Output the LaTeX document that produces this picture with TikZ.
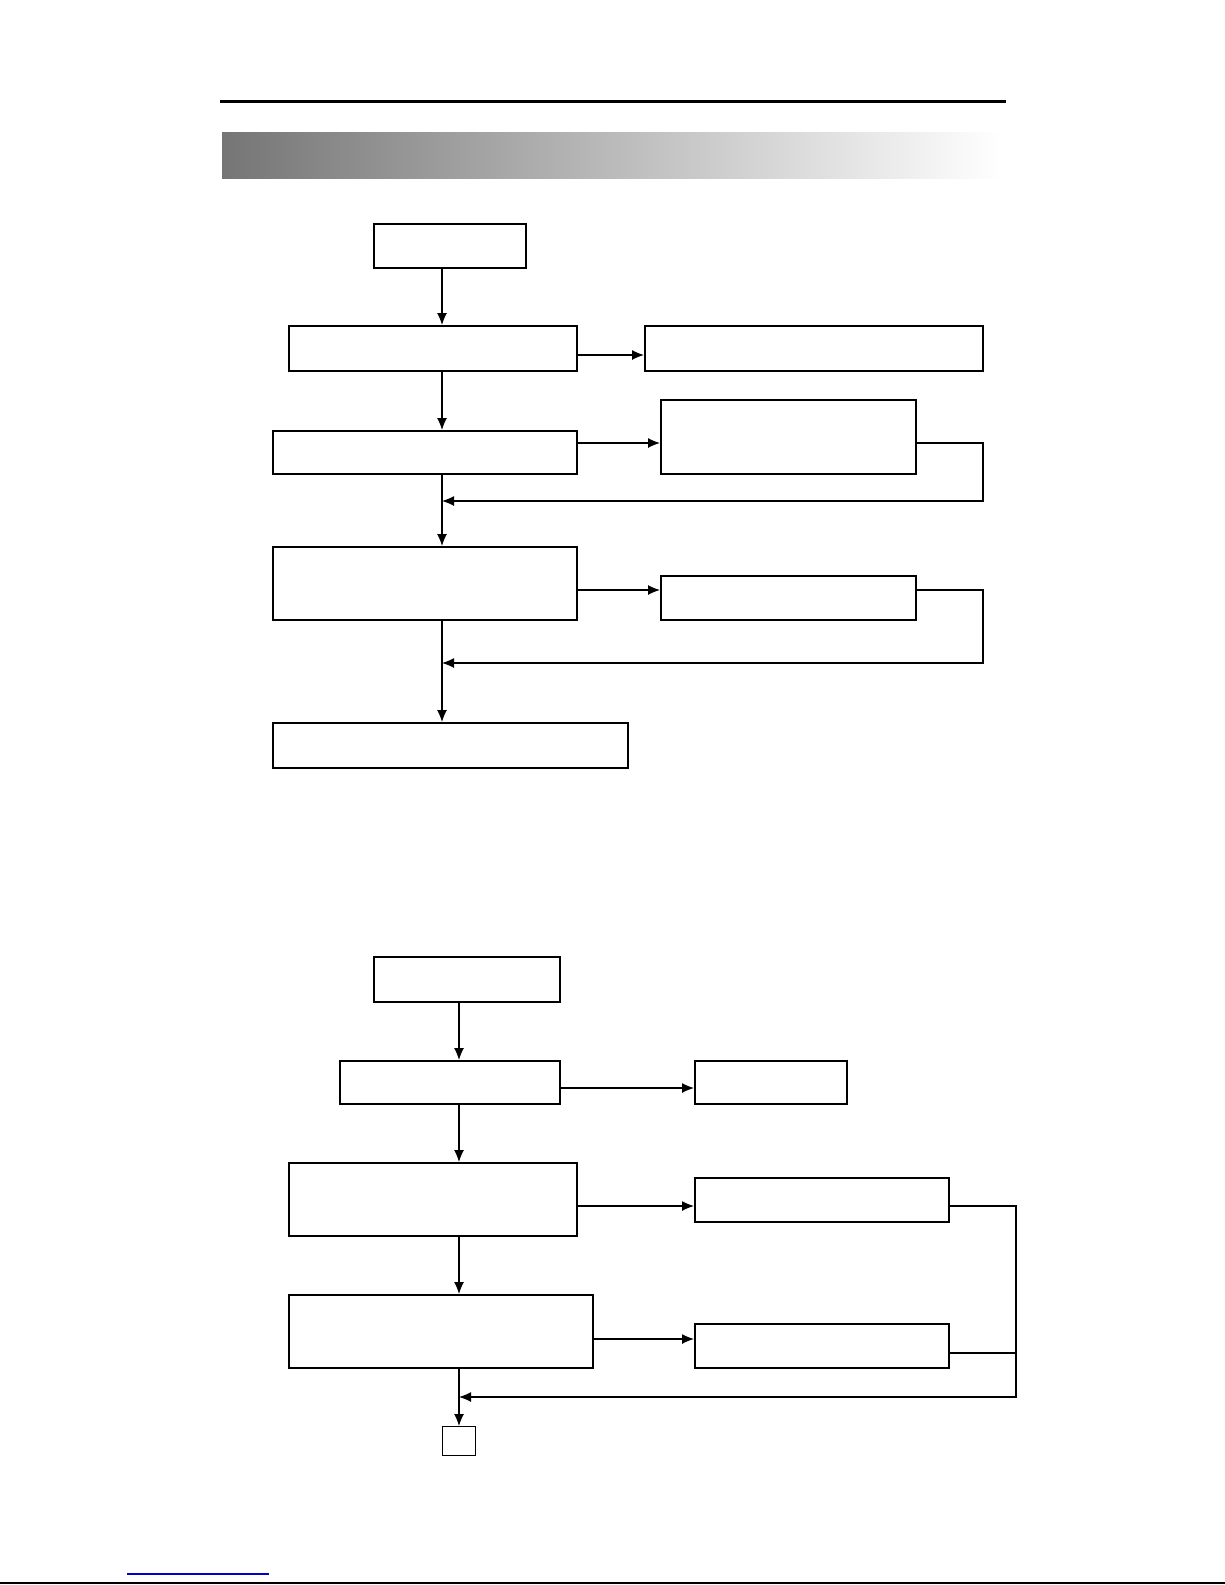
\documentclass[tikz,border=0pt]{standalone}
\usetikzlibrary{arrows.meta}
\begin{document}
\begin{tikzpicture}[x=0.5pt,y=-0.5pt,
  box/.style={draw,rectangle,anchor=north west,inner sep=0pt,line width=0.8pt},
  thk/.style={line width=1.2pt},
  conn/.style={line width=0.6pt},
  arr/.style={conn,-{Latex[length=6pt,width=5pt]}}]
\useasboundingbox (0,0) rectangle (1225,1585);
% header
\draw[line width=1.5pt] (220,101) -- (1006,101);
\shade[left color=black!54,right color=white] (222,132) rectangle (1001,178);
% spines
\coordinate (sp) at (442,0);
\coordinate (sq) at (459,0);
% top flowchart
\node[box,thk,minimum width=76pt,minimum height=22pt] (b1) at (373,223) {};
\node[box,thk,minimum width=144pt,minimum height=22.5pt] (b2) at (288,325) {};
\node[box,thk,minimum width=169pt,minimum height=22.5pt] (b2r) at (644,325) {};
\node[box,thk,minimum width=152pt,minimum height=21.5pt] (b3) at (272,430) {};
\node[box,minimum width=127.5pt,minimum height=37pt] (b3r) at (660,399) {};
\node[box,minimum width=152pt,minimum height=36.5pt] (b4) at (272,546) {};
\node[box,minimum width=127.5pt,minimum height=22pt] (b4r) at (660,575) {};
\node[box,minimum width=177.5pt,minimum height=22.5pt] (b5) at (272,722) {};
\draw[arr] (b1.south -| sp) -- (b2.north -| sp);
\draw[arr] (b2.south -| sp) -- (b3.north -| sp);
\draw[arr] (b3.south -| sp) -- (b4.north -| sp);
\draw[arr] (b4.south -| sp) -- (b5.north -| sp);
\draw[arr] (b2.east |- 0,355) -- (b2r.west |- 0,355);
\draw[arr] (b3.east |- 0,443) -- (b3r.west |- 0,443);
\draw[arr] (b4.east |- 0,590) -- (b4r.west |- 0,590);
\coordinate (j1) at (442,501);
\coordinate (j2) at (442,663);
\draw[arr] (b3r.east |- 0,443) -- (983,443) -- (983,501) -- (j1);
\draw[arr] (b4r.east |- 0,590) -- (983,590) -- (983,663) -- (j2);
% bottom flowchart
\node[box,thk,minimum width=93pt,minimum height=22.5pt] (c1) at (373,956) {};
\node[box,thk,minimum width=110pt,minimum height=21.5pt] (c2) at (339,1060) {};
\node[box,thk,minimum width=76pt,minimum height=21.5pt] (c2r) at (694,1060) {};
\node[box,line width=1pt,minimum width=144pt,minimum height=36.5pt] (c3) at (288,1162) {};
\node[box,minimum width=127pt,minimum height=22pt] (c3r) at (694,1177) {};
\node[box,line width=1pt,minimum width=152pt,minimum height=36.5pt] (c4) at (288,1294) {};
\node[box,line width=1pt,minimum width=127pt,minimum height=22pt] (c4r) at (694,1323) {};
\node[box,line width=0.6pt,minimum width=16.5pt,minimum height=14.5pt] (c5) at (442,1426) {};
\draw[arr] (c1.south -| sq) -- (c2.north -| sq);
\draw[arr] (c2.south -| sq) -- (c3.north -| sq);
\draw[arr] (c3.south -| sq) -- (c4.north -| sq);
\draw[arr] (c4.south -| sq) -- (c5.north -| sq);
\draw[arr] (c2.east |- 0,1088) -- (c2r.west |- 0,1088);
\draw[arr] (c3.east |- 0,1206) -- (c3r.west |- 0,1206);
\draw[arr] (c4.east |- 0,1339) -- (c4r.west |- 0,1339);
\coordinate (j3) at (459,1397);
\draw[arr] (c3r.east |- 0,1206) -- (1016,1206) -- (1016,1397) -- (j3);
\draw[conn] (c4r.east |- 0,1353) -- (1016,1353);
% footer
\draw[line width=0.6pt,color={rgb,255:red,0;green,0;blue,204}] (127,1574) -- (269,1574);
\draw[line width=1pt] (0,1583) -- (1225,1583);
\end{tikzpicture}
\end{document}
